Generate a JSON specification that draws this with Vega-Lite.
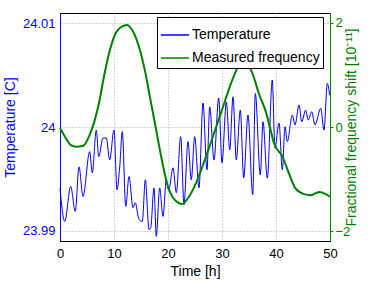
{
  "$schema": "https://vega.github.io/schema/vega-lite/v6.json",
  "width": 270,
  "height": 228,
  "autosize": {"type": "none"},
  "padding": {"left": 60, "top": 13, "right": 44, "bottom": 40},
  "background": "white",
  "config": {
    "font": "Liberation Sans",
    "view": {"stroke": "black", "strokeWidth": 1},
    "axis": {
      "labelFontSize": 13,
      "titleFontSize": 14,
      "titleFontWeight": "normal",
      "ticks": false,
      "gridColor": "#aaaaaa",
      "gridDash": [1, 2],
      "gridOpacity": 1,
      "gridWidth": 1,
      "domainWidth": 1
    }
  },
  "datasets": {
    "temp": [
      {"t": 0, "temp": 23.99413}, {"t": 0.87, "temp": 23.99089}, {"t": 1.98, "temp": 23.99426},
      {"t": 2.83, "temp": 23.99186}, {"t": 3.52, "temp": 23.99615}, {"t": 4.26, "temp": 23.9933},
      {"t": 5.5, "temp": 23.99762}, {"t": 5.98, "temp": 23.99558}, {"t": 6.72, "temp": 23.99971},
      {"t": 7.17, "temp": 23.99714}, {"t": 7.96, "temp": 23.99894}, {"t": 8.57, "temp": 23.99894},
      {"t": 9.2, "temp": 23.99683}, {"t": 10.0, "temp": 23.99971}, {"t": 10.56, "temp": 23.99394},
      {"t": 11.06, "temp": 23.99618}, {"t": 11.54, "temp": 23.99955}, {"t": 12.17, "temp": 23.99234},
      {"t": 12.78, "temp": 23.99522}, {"t": 13.52, "temp": 23.99221}, {"t": 13.94, "temp": 23.99269},
      {"t": 14.63, "temp": 23.99106}, {"t": 15.24, "temp": 23.99089}, {"t": 15.8, "temp": 23.9949},
      {"t": 16.48, "temp": 23.9901}, {"t": 16.8, "temp": 23.99029}, {"t": 17.41, "temp": 23.99413},
      {"t": 17.83, "temp": 23.98945}, {"t": 18.46, "temp": 23.99413}, {"t": 19.07, "temp": 23.99137},
      {"t": 19.69, "temp": 23.9949}, {"t": 20.13, "temp": 23.99394}, {"t": 20.93, "temp": 23.99606},
      {"t": 21.54, "temp": 23.99365}, {"t": 22.35, "temp": 23.99907}, {"t": 22.96, "temp": 23.9925},
      {"t": 23.7, "temp": 23.99859}, {"t": 24.31, "temp": 23.9949}, {"t": 24.94, "temp": 23.99907},
      {"t": 25.74, "temp": 23.99413}, {"t": 26.48, "temp": 24.00231}, {"t": 27.22, "temp": 23.99587},
      {"t": 27.72, "temp": 24.00195}, {"t": 28.52, "temp": 23.99683}, {"t": 29.39, "temp": 24.00279},
      {"t": 30.0, "temp": 23.99654}, {"t": 30.8, "temp": 24.00243}, {"t": 31.43, "temp": 23.99779},
      {"t": 32.04, "temp": 24.00291}, {"t": 32.65, "temp": 23.99683}, {"t": 33.39, "temp": 24.00163},
      {"t": 34.02, "temp": 23.9951}, {"t": 34.81, "temp": 24.00115}, {"t": 35.69, "temp": 23.99346},
      {"t": 36.17, "temp": 24.00324}, {"t": 37.09, "temp": 23.99538}, {"t": 37.59, "temp": 24.00051},
      {"t": 38.39, "temp": 23.99507}, {"t": 39.31, "temp": 24.00452}, {"t": 39.81, "temp": 23.99798},
      {"t": 40.56, "temp": 24.00038}, {"t": 41.17, "temp": 23.99587}, {"t": 41.67, "temp": 24.00003},
      {"t": 42.09, "temp": 23.99859}, {"t": 43.02, "temp": 24.00115}, {"t": 43.52, "temp": 24.00019},
      {"t": 44.26, "temp": 24.00212}, {"t": 44.76, "temp": 24.00051}, {"t": 45.5, "temp": 24.00163},
      {"t": 45.98, "temp": 24.00067}, {"t": 46.61, "temp": 24.00147}, {"t": 47.22, "temp": 24.00019},
      {"t": 48.28, "temp": 24.0018}, {"t": 48.89, "temp": 23.99971}, {"t": 49.5, "temp": 24.0042},
      {"t": 49.94, "temp": 24.00308}
    ],
    "freq": [
      {"t": 0, "f": -0.02}, {"t": 1, "f": -0.2}, {"t": 2, "f": -0.35}, {"t": 3, "f": -0.38},
      {"t": 4.3, "f": -0.36}, {"t": 5.5, "f": -0.15}, {"t": 6.2, "f": 0.05}, {"t": 7.3, "f": 0.5},
      {"t": 8.2, "f": 1.0}, {"t": 9.3, "f": 1.5}, {"t": 10.3, "f": 1.8}, {"t": 11.3, "f": 1.92},
      {"t": 12.4, "f": 1.96}, {"t": 13.6, "f": 1.82}, {"t": 14.8, "f": 1.48}, {"t": 15.8, "f": 1.05},
      {"t": 16.7, "f": 0.55}, {"t": 17.6, "f": 0.06}, {"t": 18.7, "f": -0.55}, {"t": 20.0, "f": -1.15},
      {"t": 21.0, "f": -1.37}, {"t": 22.0, "f": -1.46}, {"t": 22.6, "f": -1.48}, {"t": 23.8, "f": -1.35},
      {"t": 25.0, "f": -1.12}, {"t": 26.3, "f": -0.78}, {"t": 28.1, "f": -0.25}, {"t": 30.0, "f": 0.33},
      {"t": 31.9, "f": 0.9}, {"t": 33.2, "f": 1.2}, {"t": 34.1, "f": 1.28}, {"t": 35.6, "f": 1.04},
      {"t": 36.9, "f": 0.62}, {"t": 38.1, "f": 0.3}, {"t": 39.0, "f": -0.06}, {"t": 39.6, "f": -0.3},
      {"t": 41.2, "f": -0.57}, {"t": 42.4, "f": -0.89}, {"t": 43.6, "f": -1.18}, {"t": 45.2, "f": -1.29},
      {"t": 46.4, "f": -1.31}, {"t": 47.4, "f": -1.27}, {"t": 48.0, "f": -1.25}, {"t": 49.2, "f": -1.29},
      {"t": 50, "f": -1.34}
    ]
  },
  "layer": [
    {
      "data": {"name": "temp"},
      "mark": {"type": "line", "strokeWidth": 1, "interpolate": "monotone"},
      "encoding": {
        "x": {
          "field": "t", "type": "quantitative",
          "scale": {"domain": [0, 50], "nice": false},
          "axis": {
            "title": "Time [h]", "values": [0, 10, 20, 30, 40, 50],
            "labelColor": "black", "titleColor": "black", "domainColor": "black",
            "labelPadding": 6, "titlePadding": 4, "grid": true, "labelFlush": false
          }
        },
        "y": {
          "field": "temp", "type": "quantitative",
          "scale": {"domain": [23.989, 24.011], "nice": false, "zero": false},
          "axis": {
            "orient": "left", "title": "Temperature [C]", "values": [23.99, 24, 24.01],
            "format": "~g", "labelColor": "#0000ff", "titleColor": "#0000ff",
            "domainColor": "#0000ff", "labelPadding": 5, "titlePadding": 5, "grid": true
          }
        },
        "color": {
          "datum": "Temperature", "type": "nominal",
          "scale": {"domain": ["Temperature", "Measured frequency"], "range": ["#0000ff", "#008000"]},
          "legend": {
            "title": null, "orient": "none", "legendX": 97, "legendY": 4,
            "symbolType": "stroke", "symbolSize": 800, "symbolStrokeWidth": 1.5,
            "labelFontSize": 14, "labelColor": "black", "labelOffset": 2,
            "strokeColor": "black", "fillColor": "white", "padding": 3,
            "rowPadding": 1, "cornerRadius": 0
          }
        }
      }
    },
    {
      "data": {"name": "freq"},
      "mark": {"type": "line", "strokeWidth": 2, "interpolate": "monotone"},
      "encoding": {
        "x": {"field": "t", "type": "quantitative"},
        "y": {
          "field": "f", "type": "quantitative",
          "scale": {"domain": [-2.19, 2.19], "nice": false},
          "axis": {
            "orient": "right", "title": "Fractional frequency shift [10⁻¹¹]",
            "values": [-2, 0, 2], "format": "~g",
            "labelColor": "#008000", "titleColor": "#008000", "domainColor": "#008000",
            "ticks": true, "tickSize": 3, "tickColor": "#008000",
            "labelPadding": 2, "titlePadding": 9, "titleAngle": 270, "grid": false
          }
        },
        "color": {"datum": "Measured frequency", "type": "nominal"}
      }
    }
  ],
  "resolve": {"scale": {"y": "independent"}}
}
